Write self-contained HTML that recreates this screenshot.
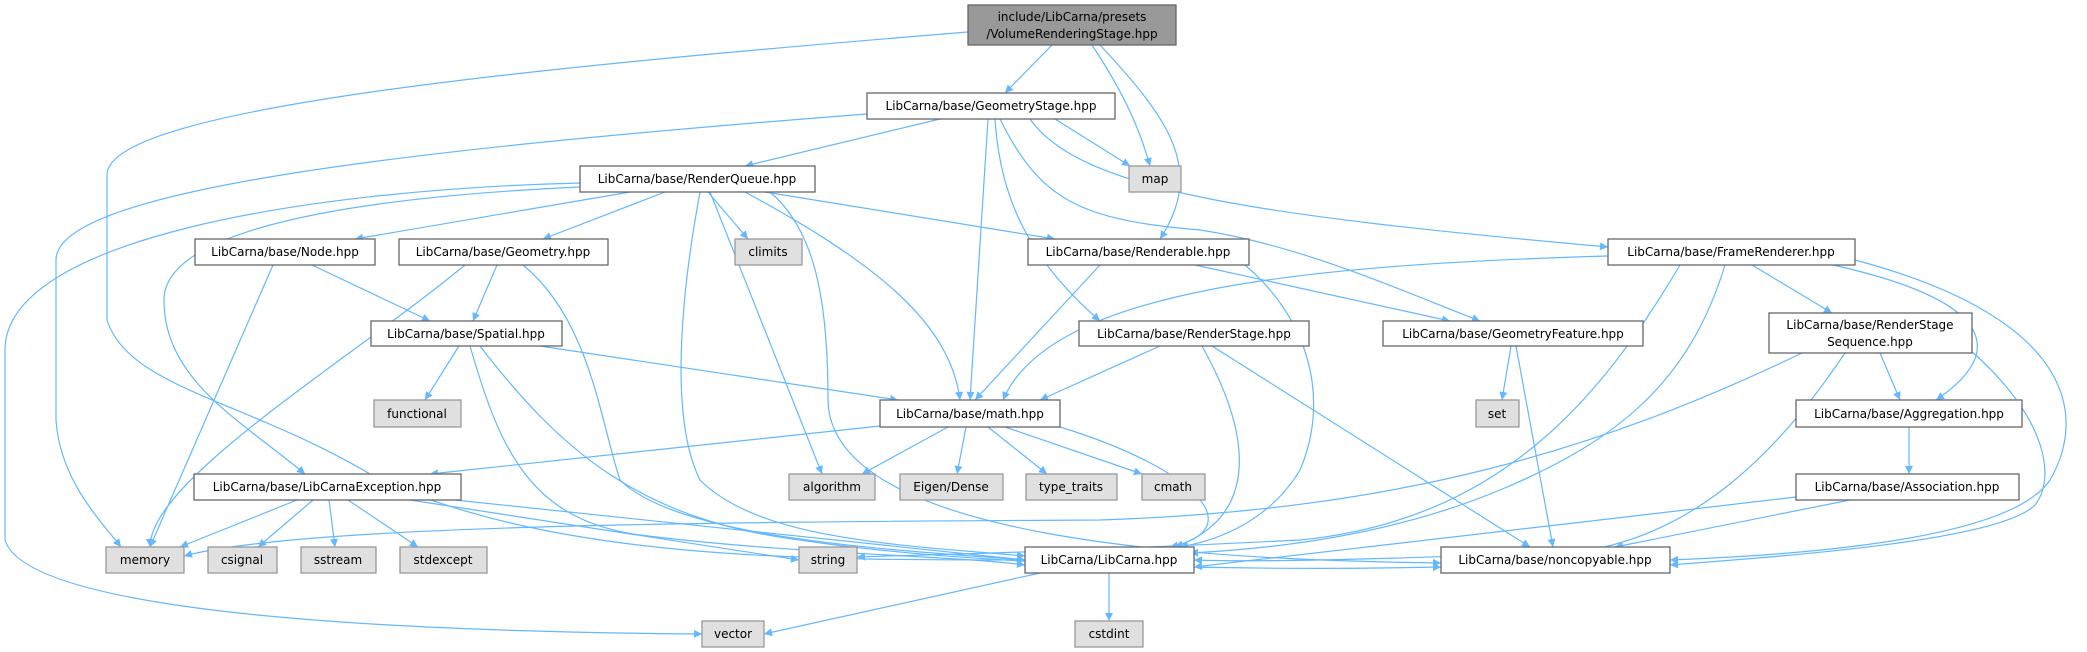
<!DOCTYPE html>
<html><head><meta charset="utf-8"><style>
html,body{margin:0;padding:0;background:#fff;}
svg{display:block}
text{font-family:"DejaVu Sans","Liberation Sans",sans-serif;font-size:12px;fill:#000}
.n{fill:#fff;stroke:#666;stroke-width:1.3}
.g{fill:#e0e0e0;stroke:#999;stroke-width:1.3}
.r{fill:#999;stroke:#666;stroke-width:1.3}
path.e{fill:none;stroke:#63b8ff;stroke-width:1.2;marker-end:url(#a)}
</style></head><body>
<svg width="2087" height="652" viewBox="0 0 2087 652" xmlns="http://www.w3.org/2000/svg">
<defs><marker id="a" viewBox="0 0 10 10" refX="10" refY="5" markerWidth="10" markerHeight="8" markerUnits="userSpaceOnUse" orient="auto"><path d="M0,0 L10,5 L0,10 z" fill="#63b8ff"/></marker></defs>

<g>
<path class="e" d="M1052,45 L1005,93"/>
<path class="e" d="M1092,45 C1125,95 1140,130 1150,166"/>
<path class="e" d="M1100,45 C1170,120 1205,170 1160,239"/>
<path class="e" d="M968,32 C500,70 107,110 107,175 L107,320 C130,390 250,400 380,480 C560,560 800,560 1025,560"/>
<path class="e" d="M867,114 C400,150 56,190 56,260 L56,420 C60,480 100,520 121,547"/>
<path class="e" d="M940,119 L745,166"/>
<path class="e" d="M1055,119 L1130,166"/>
<path class="e" d="M988,119 L970,400"/>
<path class="e" d="M1030,119 C1080,190 1250,215 1608,247"/>
<path class="e" d="M1000,119 C1040,200 1080,220 1200,230 C1300,245 1400,290 1480,321"/>
<path class="e" d="M995,119 C1000,200 1030,260 1100,321"/>
<path class="e" d="M630,192 L355,239"/>
<path class="e" d="M665,192 L543,239"/>
<path class="e" d="M708,192 L748,239"/>
<path class="e" d="M765,192 L1055,239"/>
<path class="e" d="M745,192 C870,260 950,320 960,400"/>
<path class="e" d="M710,192 L822,474"/>
<path class="e" d="M700,192 C680,300 670,420 700,480 C760,540 900,545 1025,556"/>
<path class="e" d="M580,183 C300,190 5,240 5,350 L5,540 C20,590 200,630 702,634"/>
<path class="e" d="M580,187 C300,200 164,240 164,300 C164,380 240,420 305,474"/>
<path class="e" d="M770,192 C815,230 828,300 828,400 C830,540 1200,560 1441,563"/>
<path class="e" d="M273,265 L150,547"/>
<path class="e" d="M312,265 L430,321"/>
<path class="e" d="M465,265 C350,360 150,480 150,547"/>
<path class="e" d="M497,265 L473,321"/>
<path class="e" d="M523,265 C590,320 600,420 620,480 C680,540 900,550 1025,560"/>
<path class="e" d="M459,346 L425,400"/>
<path class="e" d="M540,346 L898,400"/>
<path class="e" d="M470,346 C500,450 530,520 640,535 C800,555 950,555 1025,565"/>
<path class="e" d="M480,346 C560,450 640,520 800,540 C1000,570 1300,570 1441,567"/>
<path class="e" d="M880,426 L430,474"/>
<path class="e" d="M948,427 L862,474"/>
<path class="e" d="M966,427 L957,474"/>
<path class="e" d="M988,427 L1047,474"/>
<path class="e" d="M1005,427 L1142,474"/>
<path class="e" d="M1060,427 C1200,470 1250,530 1170,547"/>
<path class="e" d="M297,500 L180,547"/>
<path class="e" d="M313,500 L258,547"/>
<path class="e" d="M329,500 L335,547"/>
<path class="e" d="M348,500 L418,547"/>
<path class="e" d="M410,500 L799,560"/>
<path class="e" d="M455,500 L1025,560"/>
<path class="e" d="M1040,573 L764,634"/>
<path class="e" d="M1109,573 L1109,621"/>
<path class="e" d="M1100,265 L975,400"/>
<path class="e" d="M1195,265 L1450,321"/>
<path class="e" d="M1245,265 C1310,320 1330,400 1300,470 C1270,520 1220,540 1180,547"/>
<path class="e" d="M1608,256 C1300,265 1050,290 1003,400"/>
<path class="e" d="M1752,265 L1832,313"/>
<path class="e" d="M1833,265 C1990,300 2010,350 1936,400"/>
<path class="e" d="M1855,260 C2080,320 2085,420 2050,480 C2010,540 1800,555 1670,560"/>
<path class="e" d="M1725,265 C1690,380 1620,440 1500,490 C1380,540 1250,550 1190,553"/>
<path class="e" d="M1680,265 C1600,400 1500,520 1300,540 C1000,555 900,555 857,557"/>
<path class="e" d="M1160,346 L1040,400"/>
<path class="e" d="M1202,346 C1260,450 1250,520 1175,547"/>
<path class="e" d="M1212,346 L1530,547"/>
<path class="e" d="M1511,346 L1502,400"/>
<path class="e" d="M1516,346 L1553,547"/>
<path class="e" d="M1802,353 C1600,450 1400,510 1100,520 C700,522 300,525 184,556"/>
<path class="e" d="M1880,353 L1900,400"/>
<path class="e" d="M1845,353 C1780,450 1700,530 1590,550 C1400,560 1250,562 1194,560"/>
<path class="e" d="M1970,350 C2050,420 2055,480 2035,505 C2000,540 1800,555 1670,565"/>
<path class="e" d="M1909,427 L1909,474"/>
<path class="e" d="M1796,497 C1600,520 1300,555 1194,567"/>
<path class="e" d="M1850,500 L1615,547"/>
</g>

<g>
<rect class="r" x="968" y="5" width="208" height="40"/>
<text x="1072" y="21" text-anchor="middle">include/LibCarna/presets</text>
<text x="1072" y="38" text-anchor="middle">/VolumeRenderingStage.hpp</text>

<rect class="n" x="867" y="93" width="248" height="26"/><text x="991" y="110" text-anchor="middle">LibCarna/base/GeometryStage.hpp</text>
<rect class="n" x="580" y="166" width="235" height="26"/><text x="697" y="183" text-anchor="middle">LibCarna/base/RenderQueue.hpp</text>
<rect class="g" x="1129" y="166" width="52" height="26"/><text x="1155" y="183" text-anchor="middle">map</text>
<rect class="n" x="195" y="239" width="180" height="26"/><text x="285" y="256" text-anchor="middle">LibCarna/base/Node.hpp</text>
<rect class="n" x="399" y="239" width="209" height="26"/><text x="503" y="256" text-anchor="middle">LibCarna/base/Geometry.hpp</text>
<rect class="g" x="735" y="239" width="67" height="26"/><text x="768" y="256" text-anchor="middle">climits</text>
<rect class="n" x="1028" y="239" width="221" height="26"/><text x="1138" y="256" text-anchor="middle">LibCarna/base/Renderable.hpp</text>
<rect class="n" x="1608" y="239" width="247" height="26"/><text x="1731" y="256" text-anchor="middle">LibCarna/base/FrameRenderer.hpp</text>
<rect class="n" x="1769" y="313" width="203" height="40"/>
<text x="1870" y="329" text-anchor="middle">LibCarna/base/RenderStage</text>
<text x="1870" y="346" text-anchor="middle">Sequence.hpp</text>
<rect class="n" x="371" y="321" width="191" height="25"/><text x="466" y="338" text-anchor="middle">LibCarna/base/Spatial.hpp</text>
<rect class="n" x="1079" y="321" width="230" height="25"/><text x="1194" y="338" text-anchor="middle">LibCarna/base/RenderStage.hpp</text>
<rect class="n" x="1383" y="321" width="260" height="25"/><text x="1513" y="338" text-anchor="middle">LibCarna/base/GeometryFeature.hpp</text>
<rect class="g" x="374" y="400" width="87" height="27"/><text x="417" y="418" text-anchor="middle">functional</text>
<rect class="n" x="880" y="400" width="180" height="27"/><text x="970" y="418" text-anchor="middle">LibCarna/base/math.hpp</text>
<rect class="g" x="1476" y="400" width="43" height="27"/><text x="1497" y="418" text-anchor="middle">set</text>
<rect class="n" x="1796" y="400" width="226" height="27"/><text x="1909" y="418" text-anchor="middle">LibCarna/base/Aggregation.hpp</text>
<rect class="n" x="194" y="474" width="267" height="26"/><text x="327" y="491" text-anchor="middle">LibCarna/base/LibCarnaException.hpp</text>
<rect class="g" x="789" y="474" width="86" height="26"/><text x="832" y="491" text-anchor="middle">algorithm</text>
<rect class="g" x="900" y="474" width="103" height="26"/><text x="951" y="491" text-anchor="middle">Eigen/Dense</text>
<rect class="g" x="1026" y="474" width="91" height="26"/><text x="1071" y="491" text-anchor="middle">type_traits</text>
<rect class="g" x="1142" y="474" width="63" height="26"/><text x="1173" y="491" text-anchor="middle">cmath</text>
<rect class="n" x="1796" y="474" width="223" height="26"/><text x="1907" y="491" text-anchor="middle">LibCarna/base/Association.hpp</text>
<rect class="g" x="106" y="547" width="78" height="26"/><text x="145" y="564" text-anchor="middle">memory</text>
<rect class="g" x="208" y="547" width="69" height="26"/><text x="242" y="564" text-anchor="middle">csignal</text>
<rect class="g" x="301" y="547" width="75" height="26"/><text x="338" y="564" text-anchor="middle">sstream</text>
<rect class="g" x="400" y="547" width="87" height="26"/><text x="443" y="564" text-anchor="middle">stdexcept</text>
<rect class="g" x="799" y="547" width="58" height="26"/><text x="828" y="564" text-anchor="middle">string</text>
<rect class="n" x="1025" y="547" width="169" height="26"/><text x="1109" y="564" text-anchor="middle">LibCarna/LibCarna.hpp</text>
<rect class="n" x="1441" y="547" width="229" height="26"/><text x="1555" y="564" text-anchor="middle">LibCarna/base/noncopyable.hpp</text>
<rect class="g" x="702" y="621" width="62" height="26"/><text x="733" y="638" text-anchor="middle">vector</text>
<rect class="g" x="1075" y="621" width="68" height="26"/><text x="1109" y="638" text-anchor="middle">cstdint</text>
</g>
</svg>
</body></html>
